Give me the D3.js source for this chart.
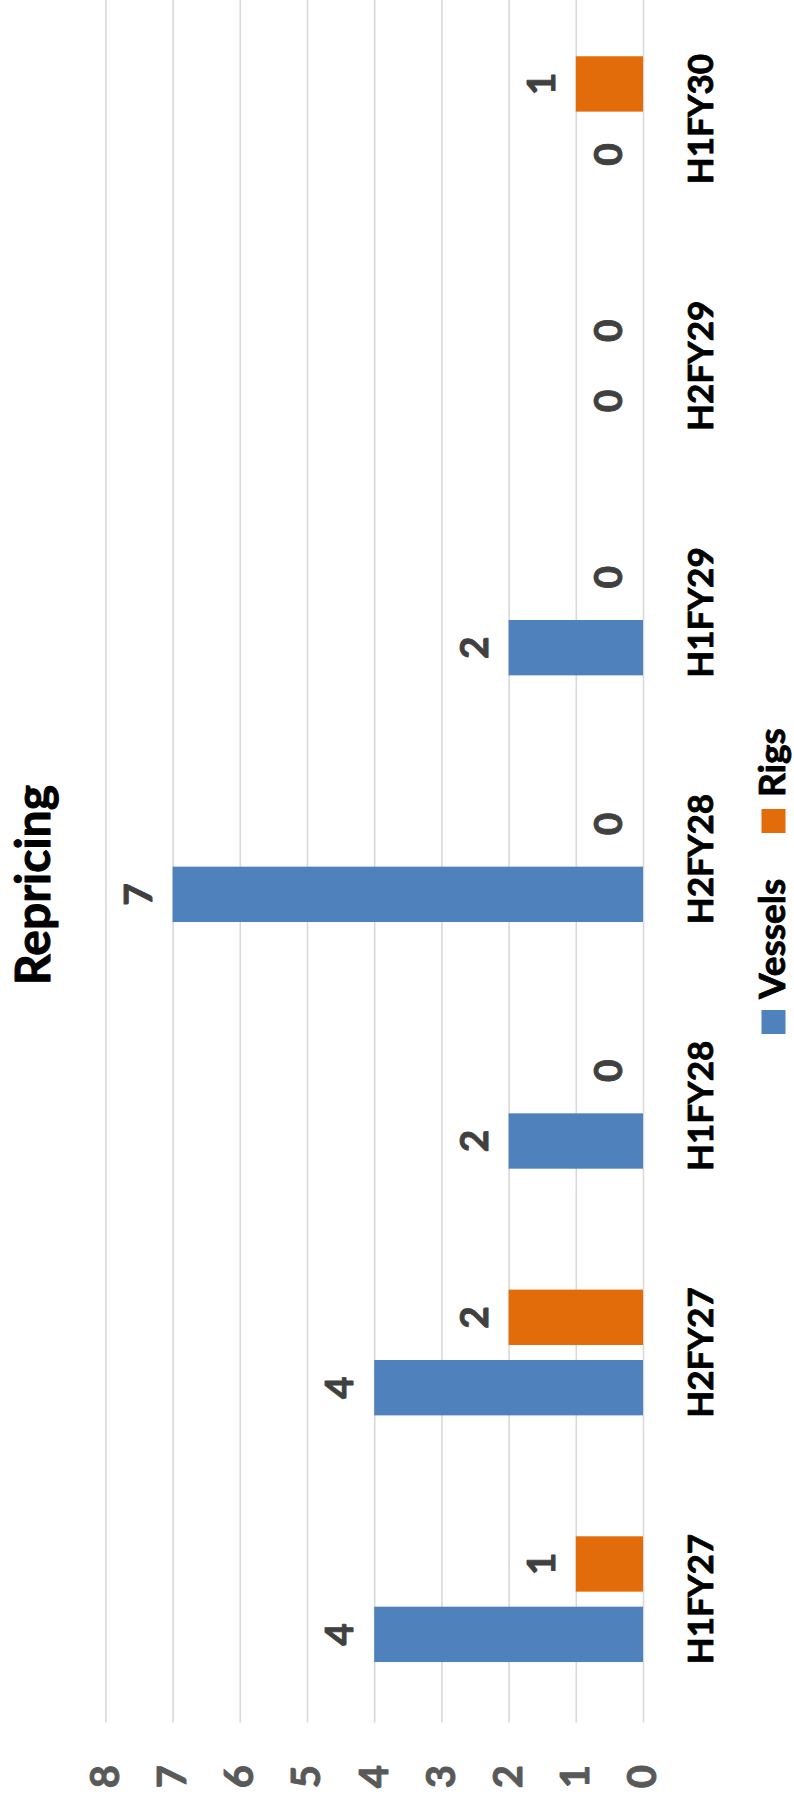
<!DOCTYPE html>
<html>
<head>
<meta charset="utf-8">
<script src="https://cdn.jsdelivr.net/npm/d3@7/dist/d3.min.js"></script>
<style>
  html, body { margin: 0; padding: 0; background: #fff; }
  svg { display: block; }
  text { font-family: Lato, "Open Sans", "Liberation Sans", sans-serif; font-weight: 700; }
</style>
</head>
<body>
<svg id="chart" width="794" height="1796"></svg>
<script>
// Repricing schedule by half-year
const categories = ["H1FY27", "H2FY27", "H1FY28", "H2FY28", "H1FY29", "H2FY29", "H1FY30"];
const seriesNames = ["Vessels", "Rigs"];
const vessels = [4, 4, 2, 7, 2, 0, 0];
const rigs = [1, 2, 0, 0, 0, 0, 1];
const valueTicks = [0, 1, 2, 3, 4, 5, 6, 7, 8];
const colors = { Vessels: "#4F81BD", Rigs: "#E36C0A" };

const pageW = 794, pageH = 1796;
// The chart is laid out on its side: drawn in a landscape frame (pageH wide, pageW tall)
// and turned a quarter-turn counter-clockwise onto the portrait page.
const svg = d3.select("#chart");
const g = svg.append("g").attr("transform", `translate(0,${pageH}) rotate(-90)`);

const plotLeft = 73.5, plotRight = 1800.2;
const x = d3.scaleBand().domain(categories).range([plotLeft, plotRight]).paddingInner(0).paddingOuter(0);
const xs = d3.scaleBand().domain(seriesNames).range([0, x.bandwidth()])
  .paddingInner(0.2134).paddingOuter(0.859).align(0.5);
const y = d3.scaleLinear().domain([0, 8]).range([643, 105.4]);

// heavier glyphs: a thin outline in the fill colour
function heavy(sel, color, w) {
  sel.attr("fill", color).attr("stroke", color).attr("stroke-width", w).attr("stroke-linejoin", "round");
}

// gridlines + value labels
const yAxis = d3.axisLeft(y).tickValues(valueTicks).tickSize(-(plotRight - plotLeft)).tickPadding(42.5);
const ya = g.append("g").attr("transform", `translate(${plotLeft},0)`).call(yAxis);
ya.select(".domain").remove();
ya.selectAll(".tick line").attr("stroke", "#D9D9D9").attr("stroke-width", 1.6);
ya.selectAll(".tick text").attr("font-size", 40)
  .attr("font-family", "Lato, sans-serif").attr("font-weight", 700)
  .call(heavy, "#595959", 0.9);

// category labels
const xAxis = d3.axisBottom(x).tickSize(0).tickPadding(45);
const xa = g.append("g").attr("transform", `translate(0,${y(0)})`).call(xAxis);
xa.select(".domain").remove();
xa.selectAll(".tick text").attr("font-size", 35)
  .attr("font-family", "Lato, sans-serif").attr("font-weight", 700)
  .call(heavy, "#000", 0.8);

// bars
const rows = categories.map((c, i) => ({ cat: c, Vessels: vessels[i], Rigs: rigs[i] }));
const groups = g.append("g").selectAll("g").data(rows).join("g")
  .attr("transform", d => `translate(${x(d.cat)},0)`);

const cells = groups.selectAll("g").data(d => seriesNames.map(s => ({ s, v: d[s] }))).join("g");
cells.filter(d => d.v > 0).append("rect")
  .attr("x", d => xs(d.s))
  .attr("width", xs.bandwidth())
  .attr("y", d => y(d.v))
  .attr("height", d => y(0) - y(d.v))
  .attr("fill", d => colors[d.s]);

// value labels
cells.append("text")
  .attr("x", d => xs(d.s) + xs.bandwidth() / 2)
  .attr("y", d => y(d.v) - 21)
  .attr("text-anchor", "middle")
  .attr("font-size", 39)
  .call(heavy, "#404040", 0.9)
  .text(d => d.v);

// title
g.append("text")
  .attr("x", 911).attr("y", 50)
  .attr("text-anchor", "middle")
  .attr("font-size", 48)
  .call(heavy, "#000", 1)
  .text("Repricing");

// legend
const legendItems = [
  { s: "Vessels", sq: 762, tx: 797 },
  { s: "Rigs", sq: 963, tx: 999 }
];
const lg = g.append("g");
lg.selectAll("rect").data(legendItems).join("rect")
  .attr("x", d => d.sq).attr("y", 761.5)
  .attr("width", 24).attr("height", 24)
  .attr("fill", d => colors[d.s]);
lg.selectAll("text").data(legendItems).join("text")
  .attr("x", d => d.tx).attr("y", 785)
  .attr("font-size", 37)
  .call(heavy, "#000", 0.8)
  .text(d => d.s);
</script>
</body>
</html>
